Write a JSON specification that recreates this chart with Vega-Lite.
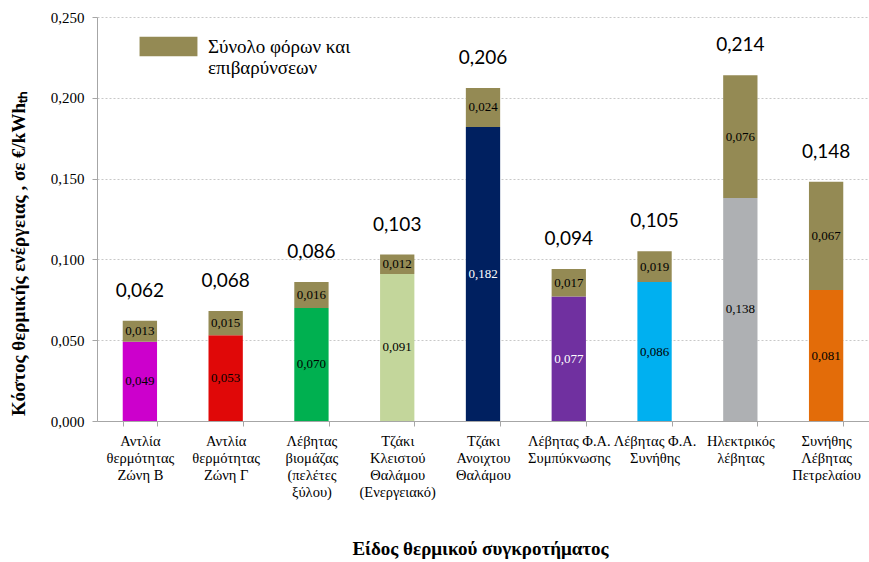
{
  "$schema": "https://vega.github.io/schema/vega-lite/v6.json",
  "width": 772,
  "height": 404,
  "autosize": {"type": "none"},
  "padding": {"left": 97, "top": 17, "right": 0, "bottom": 141},
  "background": "white",
  "config": {
    "view": {"stroke": null},
    "font": "Liberation Serif",
    "locale": {"number": {"decimal": ",", "thousands": ".", "grouping": [3], "currency": ["", " €"]}}
  },
  "data": {
    "values": [
      {"name": "Αντλία|θερμότητας|Ζώνη Β", "base": 0.049, "tax": 0.013, "total": 0.062, "series": "Σύνολο φόρων και επιβαρύνσεων"},
      {"name": "Αντλία|θερμότητας|Ζώνη Γ", "base": 0.053, "tax": 0.015, "total": 0.068, "series": "Σύνολο φόρων και επιβαρύνσεων"},
      {"name": "Λέβητας|βιομάζας|(πελέτες|ξύλου)", "base": 0.070, "tax": 0.016, "total": 0.086, "series": "Σύνολο φόρων και επιβαρύνσεων"},
      {"name": "Τζάκι|Κλειστού|Θαλάμου|(Ενεργειακό)", "base": 0.091, "tax": 0.012, "total": 0.103, "series": "Σύνολο φόρων και επιβαρύνσεων"},
      {"name": "Τζάκι|Ανοιχτου|Θαλάμου", "base": 0.182, "tax": 0.024, "total": 0.206, "series": "Σύνολο φόρων και επιβαρύνσεων"},
      {"name": "Λέβητας Φ.Α.|Συμπύκνωσης", "base": 0.077, "tax": 0.017, "total": 0.094, "series": "Σύνολο φόρων και επιβαρύνσεων"},
      {"name": "Λέβητας Φ.Α.|Συνήθης", "base": 0.086, "tax": 0.019, "total": 0.105, "series": "Σύνολο φόρων και επιβαρύνσεων"},
      {"name": "Ηλεκτρικός|λέβητας", "base": 0.138, "tax": 0.076, "total": 0.214, "series": "Σύνολο φόρων και επιβαρύνσεων"},
      {"name": "Συνήθης|Λέβητας|Πετρελαίου", "base": 0.081, "tax": 0.067, "total": 0.148, "series": "Σύνολο φόρων και επιβαρύνσεων"}
    ]
  },
  "transform": [
    {"calculate": "datum.base / 2", "as": "baseMid"},
    {"calculate": "datum.base + datum.tax / 2", "as": "taxMid"}
  ],
  "encoding": {
    "x": {
      "field": "name",
      "type": "nominal",
      "sort": null,
      "scale": {"paddingInner": 0.6, "paddingOuter": 0.3},
      "axis": {
        "title": "Είδος θερμικού συγκροτήματος",
        "titleFont": "Liberation Serif",
        "titleFontSize": 19,
        "titleFontWeight": "bold",
        "titleColor": "black",
        "titleX": 383,
        "titleY": 118,
        "titleBaseline": "top",
        "titleAnchor": "start",
        "titleAlign": "center",
        "labelExpr": "split(datum.label, '|')",
        "labelAngle": 0,
        "labelFont": "Liberation Serif",
        "labelFontSize": 14.5,
        "labelLineHeight": 17,
        "labelColor": "black",
        "labelPadding": 8,
        "labelOverlap": false,
        "labelLimit": 200,
        "tickBand": "extent",
        "tickSize": 5,
        "tickColor": "#A6A6A6",
        "domainColor": "#A6A6A6",
        "grid": false
      }
    }
  },
  "layer": [
    {
      "mark": {"type": "bar"},
      "encoding": {
        "y": {
          "field": "base",
          "type": "quantitative",
          "scale": {"domain": [0, 0.25], "nice": false},
          "axis": {
            "title": "Κόστος θερμικής ενέργειας , σε  €/kWhₜₕ",
            "titleFont": "Liberation Serif",
            "titleFontSize": 19,
            "titleFontWeight": "bold",
            "titleColor": "black",
            "titleX": -79,
            "titleY": 236,
            "titleAngle": -90,
            "titleAlign": "center",
            "titleBaseline": "middle",
            "values": [0, 0.05, 0.1, 0.15, 0.2, 0.25],
            "format": ".3f",
            "labelFont": "Liberation Serif",
            "labelFontSize": 15,
            "labelColor": "black",
            "labelPadding": 8,
            "tickSize": 5,
            "tickColor": "#A6A6A6",
            "domainColor": "#A6A6A6",
            "gridColor": "#C8C8C8",
            "gridDash": [2, 2]
          }
        },
        "color": {
          "field": "name",
          "type": "nominal",
          "sort": null,
          "scale": {
            "range": ["#CC00CC", "#E00808", "#00B050", "#C3D69B", "#002060", "#7030A0", "#00B0F0", "#AEB0B3", "#E36C09"]
          },
          "legend": null
        }
      }
    },
    {
      "mark": {"type": "bar"},
      "encoding": {
        "y": {"field": "base", "type": "quantitative"},
        "y2": {"field": "total"},
        "color": {
          "field": "series",
          "type": "nominal",
          "scale": {"range": ["#948A54"]},
          "legend": {
            "orient": "none",
            "legendX": 52,
            "legendY": 10,
            "title": null,
            "symbolType": "M-1.5,-0.5H1.5V0.5H-1.5Z",
            "symbolSize": 1490,
            "symbolStrokeWidth": 0,
            "symbolOpacity": 1,
            "labelExpr": "['Σύνολο φόρων και', 'επιβαρύνσεων']",
            "labelFont": "Liberation Serif",
            "labelFontSize": 19,
            "labelLineHeight": 25,
            "labelColor": "black",
            "labelOffset": 20,
            "labelLimit": 300
          }
        }
      }
    },
    {
      "mark": {"type": "text", "font": "Liberation Serif", "fontSize": 13},
      "encoding": {
        "y": {"field": "baseMid", "type": "quantitative"},
        "text": {"field": "base", "type": "quantitative", "format": ".3f"},
        "color": {
          "condition": {"test": "datum.base == 0.182 || datum.base == 0.077", "value": "white"},
          "value": "black"
        }
      }
    },
    {
      "mark": {"type": "text", "font": "Liberation Serif", "fontSize": 13, "color": "black"},
      "encoding": {
        "y": {"field": "taxMid", "type": "quantitative"},
        "text": {"field": "tax", "type": "quantitative", "format": ".3f"}
      }
    },
    {
      "mark": {"type": "text", "font": "Lato", "fontSize": 19, "color": "black", "dy": -30},
      "encoding": {
        "y": {"field": "total", "type": "quantitative"},
        "text": {"field": "total", "type": "quantitative", "format": ".3f"}
      }
    }
  ],
  "resolve": {"scale": {"color": "independent"}}
}
